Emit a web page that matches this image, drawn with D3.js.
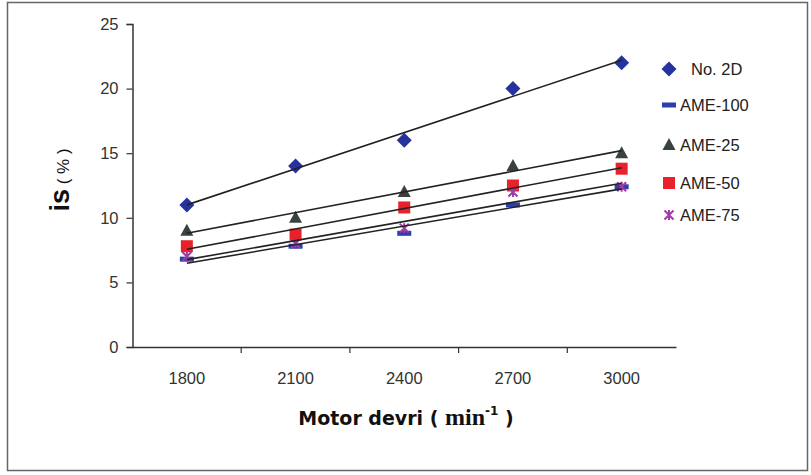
<!DOCTYPE html>
<html><head><meta charset="utf-8">
<script src="https://cdn.jsdelivr.net/npm/d3@7/dist/d3.min.js"></script>
<style>body{margin:0;background:#fff}svg{display:block}</style>
</head><body>
<script>
const categories = ["1800","2100","2400","2700","3000"];
const no2D   = [11, 14, 16, 20, 22];
const ame100 = [6.8, 7.8, 8.8, 11.0, 12.4];
const ame25  = [9, 10, 12, 14, 15];
const ame50  = [7.8, 8.7, 10.8, 12.5, 13.8];
const ame75  = [7.0, 8.0, 9.2, 12.0, 12.4];
const yTicks = [0, 5, 10, 15, 20, 25];

const series = [
  {name:"No. 2D", values:no2D, sym:"diamond", color:"#26339f"},
  {name:"AME-100", values:ame100, sym:"dash", color:"#2b3fae"},
  {name:"AME-25", values:ame25, sym:"triangle", color:"#3a423f"},
  {name:"AME-50", values:ame50, sym:"square", color:"#e8212b"},
  {name:"AME-75", values:ame75, sym:"star", color:"#a23aa6"}
];

const W=811,H=475;
const svg=d3.select("body").append("svg").attr("width",W).attr("height",H);
svg.append("rect").attr("x",7.5).attr("y",2.5).attr("width",800).attr("height",468)
  .attr("fill","#fff").attr("stroke","#666").attr("stroke-width",1.5);

const x=d3.scaleBand().domain(categories).range([132.5,676]).padding(0);
const y=d3.scaleLinear().domain([0,25]).range([347,24]);
const cx=c=>x(c)+x.bandwidth()/2;

// y axis
const ya=svg.append("g").attr("transform","translate(132.5,0)")
  .call(d3.axisLeft(y).tickValues(yTicks).tickSize(6).tickPadding(8));
ya.select(".domain").attr("stroke","#333").attr("stroke-width",1.5);
ya.selectAll(".tick line").attr("stroke","#333").attr("stroke-width",1.2);
ya.selectAll(".tick text").attr("font-family","Liberation Sans, Arial, sans-serif")
  .attr("font-size",16.5).attr("fill","#333");

// x axis
const xa=svg.append("g").attr("transform","translate(0,347)")
  .call(d3.axisBottom(x).tickSize(0).tickPadding(25));
xa.select(".domain").attr("stroke","#333").attr("stroke-width",1.5);
xa.selectAll(".tick text").attr("font-family","Liberation Sans, Arial, sans-serif")
  .attr("font-size",16.5).attr("fill","#333");
xa.selectAll(".bt").data(categories.slice(1)).enter().append("line")
  .attr("x1",d=>x(d)).attr("x2",d=>x(d)).attr("y1",0).attr("y2",6)
  .attr("stroke","#333").attr("stroke-width",1.2);

// markers
function drawSym(g,sym,color){
  if(sym==="diamond") g.append("path").attr("d","M0,-7.5L7.5,0L0,7.5L-7.5,0Z").attr("fill",color);
  else if(sym==="dash") g.append("rect").attr("x",-7).attr("y",-2.5).attr("width",14).attr("height",5).attr("fill",color);
  else if(sym==="triangle") g.append("path").attr("d","M0,-7L6.5,5L-6.5,5Z").attr("fill",color);
  else if(sym==="square") g.append("rect").attr("x",-6).attr("y",-6).attr("width",12).attr("height",12).attr("fill",color);
  else if(sym==="star"){
    g.append("path").attr("d","M-4.5,-4.5L4.5,4.5M-4.5,4.5L4.5,-4.5M0,-5L0,5").attr("stroke",color).attr("stroke-width",2).attr("fill","none");
  }
}
series.forEach(s=>{
  s.values.forEach((v,i)=>{
    const g=svg.append("g").attr("transform",`translate(${cx(categories[i])},${y(v)})`);
    drawSym(g,s.sym,s.color);
  });
});

// linear trendlines (least squares on category index)
series.forEach(s=>{
  const n=s.values.length, xs=d3.range(n);
  const mx=d3.mean(xs), my=d3.mean(s.values);
  const b=d3.sum(xs,(xi,i)=>(xi-mx)*(s.values[i]-my))/d3.sum(xs,xi=>(xi-mx)**2);
  const a=my-b*mx;
  svg.append("line")
    .attr("x1",cx(categories[0])).attr("y1",y(a))
    .attr("x2",cx(categories[n-1])).attr("y2",y(a+b*(n-1)))
    .attr("stroke","#222").attr("stroke-width",1.6);
});

// legend
const legY=[69,105,145,183,215];
series.forEach((s,i)=>{
  const g=svg.append("g").attr("transform",`translate(669,${legY[i]})`);
  drawSym(g,s.sym,s.color);
  g.append("text").attr("x",s.name==="No. 2D"?22:11).attr("y",0).attr("dy","0.36em")
    .attr("font-family","Liberation Sans, Arial, sans-serif").attr("font-size",16.5)
    .attr("fill","#222").text(s.name);
});

// x title
const xt=svg.append("text").attr("x",406).attr("y",425).attr("text-anchor","middle")
  .attr("font-family","DejaVu Sans, Verdana, sans-serif").attr("font-weight","bold")
  .attr("font-size",19).attr("fill","#111");
xt.append("tspan").text("Motor devri ( ");
xt.append("tspan").attr("font-family","Liberation Serif, serif").attr("font-size",24).text("min");
xt.append("tspan").attr("font-size",12).attr("dy",-10).text("-1");
xt.append("tspan").attr("dy",10).text(" )");

// y title
const yt=svg.append("text").attr("transform","translate(69,180) rotate(-90)").attr("text-anchor","middle")
  .attr("font-family","Liberation Sans, Arial, sans-serif").attr("font-weight","bold").attr("fill","#111");
yt.append("tspan").attr("font-size",27).text("is");
yt.append("tspan").attr("font-size",17).attr("font-weight","normal").text(" ( % )");
</script>
</body></html>
